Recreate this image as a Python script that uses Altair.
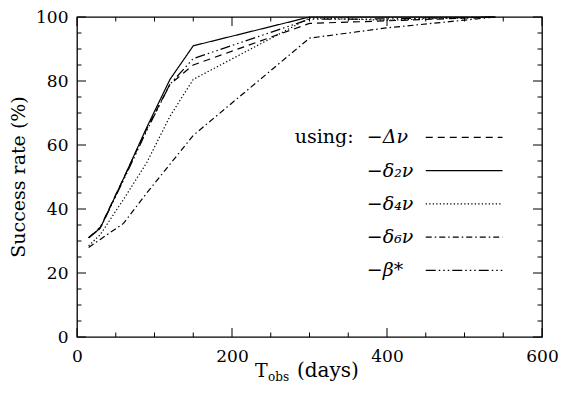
import altair as alt
import pandas as pd

# ---- data ----
days = [15, 30, 60, 90, 120, 150, 300, 400, 540]
series_names = ["dnu", "d2nu", "d4nu", "d6nu", "beta"]
legend_labels = ["−Δν", "−δ₂ν", "−δ₄ν", "−δ₆ν", "−β*"]
rate_dnu = [31, 34.3, 49.5, 65, 79, 85, 98, 98.8, 100]
rate_d2 = [31, 34, 49.5, 65.5, 80.5, 91, 100, 100, 100]
rate_d4 = [28.5, 32, 43, 54.5, 69, 80.5, 99.7, 99, 100]
rate_d6 = [28, 30.5, 35.5, 45, 54, 63, 93.4, 96.6, 100]
rate_beta = [31, 34, 49, 64.5, 79, 87, 99.3, 99.4, 100]
x_major = [0, 200, 400, 600]
y_major = [0, 20, 40, 60, 80, 100]
x_minor = [v for v in range(0, 601, 50) if v not in x_major]
y_minor = [v for v in range(0, 101, 5) if v not in y_major]

dash_patterns = [[7, 5], [1, 0], [1.3, 2.2], [6, 3, 1.5, 3], [10, 3, 1.5, 3, 1.5, 3, 1.5, 3]]

all_rates = [rate_dnu, rate_d2, rate_d4, rate_d6, rate_beta]
rows = []
for name, rates in zip(series_names, all_rates):
    for d, r in zip(days, rates):
        rows.append({"series": name, "day": d, "rate": r})
df = pd.DataFrame(rows)

W, H = 465, 320
PAD_L, PAD_T = 69, 9
FONT = "DejaVu Serif"

xs = alt.Scale(domain=[0, 600], nice=False, zero=False)
ys = alt.Scale(domain=[0, 100], nice=False, zero=False)
xa = alt.Axis(values=x_major, ticks=False, tickSize=0, domain=False, grid=False,
              labelFont=FONT, labelFontSize=17, labelColor="black", labelPadding=11,
              labelFlush=False, format="d")
ya = alt.Axis(values=y_major, ticks=False, tickSize=0, domain=False, grid=False,
              labelFont=FONT, labelFontSize=17, labelColor="black", labelPadding=9,
              labelFlush=False, format="d")
dash_scale = alt.Scale(domain=series_names, range=dash_patterns)

lines = alt.Chart(df).mark_line(color="black", strokeWidth=1.2).encode(
    x=alt.X("day:Q", scale=xs, axis=xa, title=None),
    y=alt.Y("rate:Q", scale=ys, axis=ya, title=None),
    strokeDash=alt.StrokeDash("series:N", scale=dash_scale, legend=None),
    detail="series:N",
)

def xticks(vals, length):
    d = pd.DataFrame({"v": vals})
    bottom = alt.Chart(d).mark_rule(color="black", strokeWidth=1).encode(
        x=alt.X("v:Q", scale=xs, axis=xa, title=None),
        y=alt.value(H), y2=alt.value(H - length))
    top = alt.Chart(d).mark_rule(color="black", strokeWidth=1).encode(
        x=alt.X("v:Q", scale=xs, axis=xa, title=None),
        y=alt.value(0), y2=alt.value(length))
    return [bottom, top]

def yticks(vals, length):
    d = pd.DataFrame({"v": vals})
    left = alt.Chart(d).mark_rule(color="black", strokeWidth=1).encode(
        y=alt.Y("v:Q", scale=ys, axis=ya, title=None),
        x=alt.value(0), x2=alt.value(length))
    right = alt.Chart(d).mark_rule(color="black", strokeWidth=1).encode(
        y=alt.Y("v:Q", scale=ys, axis=ya, title=None),
        x=alt.value(W), x2=alt.value(W - length))
    return [left, right]

tick_layers = xticks(x_major, 9) + xticks(x_minor, 4.5) + yticks(y_major, 9) + yticks(y_minor, 4.5)

# ---- in-plot legend ----
leg_rows = []
for i, (name, lab) in enumerate(zip(series_names, legend_labels)):
    yv = 62.4 - 10.4 * i
    leg_rows.append({"series": name, "label": lab, "y": yv, "x1": 450, "x2": 549, "lx": 374})
leg_df = pd.DataFrame(leg_rows)

leg_lines = alt.Chart(leg_df).mark_rule(color="black", strokeWidth=1.2).encode(
    x=alt.X("x1:Q", scale=xs, axis=xa, title=None),
    x2="x2:Q",
    y=alt.Y("y:Q", scale=ys, axis=ya, title=None),
    strokeDash=alt.StrokeDash("series:N", scale=dash_scale, legend=None),
)
leg_text = alt.Chart(leg_df).mark_text(align="left", baseline="middle", font=FONT,
                                       fontSize=19, fontStyle="italic", color="black").encode(
    x=alt.X("lx:Q", scale=xs, axis=xa, title=None),
    y=alt.Y("y:Q", scale=ys, axis=ya, title=None),
    text="label:N",
)
using_df = pd.DataFrame({"t": ["using:"], "x": [357], "y": [62.4]})
using_text = alt.Chart(using_df).mark_text(align="right", baseline="middle", font=FONT,
                                           fontSize=19, color="black").encode(
    x=alt.X("x:Q", scale=xs, axis=xa, title=None),
    y=alt.Y("y:Q", scale=ys, axis=ya, title=None),
    text="t:N",
)

# ---- axis titles ----
def label(txt, x, y, size, align="left", baseline="alphabetic", angle=0):
    return alt.Chart(pd.DataFrame({"t": [txt]})).mark_text(
        align=align, baseline=baseline, font=FONT, fontSize=size, angle=angle, color="black"
    ).encode(x=alt.value(x), y=alt.value(y), text="t:N")

ytitle = label("Success rate (%)", -67, H / 2, 19, align="center", baseline="top", angle=270)
xt_T = label("T", 178, 360, 19)
xt_obs = label("obs", 191, 364, 12)
xt_days = label("(days)", 220, 360, 20)

chart = alt.layer(
    lines, *tick_layers, leg_lines, leg_text, using_text, ytitle, xt_T, xt_obs, xt_days
).properties(
    width=W, height=H,
    padding={"left": PAD_L, "top": PAD_T, "right": 551 - PAD_L - W, "bottom": 377 - PAD_T - H},
    autosize=alt.AutoSizeParams(type="none"),
).configure_view(stroke="black", strokeWidth=1.3)

chart.save("out.html", embed_options={"renderer": "svg", "actions": False})
